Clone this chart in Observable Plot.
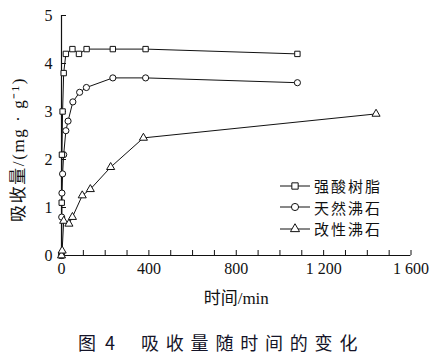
<!DOCTYPE html>
<html><head><meta charset="utf-8">
<script src="https://cdn.jsdelivr.net/npm/d3@7"></script>
<script src="https://cdn.jsdelivr.net/npm/@observablehq/plot@0.6"></script>
<style>
body{margin:0;background:#fff;}
#wrap{position:relative;width:435px;height:359px;overflow:hidden;}
#legend{position:absolute;left:279px;top:175px;font-family:"Noto Sans CJK SC",sans-serif;font-size:15px;letter-spacing:2px;color:#111;}
#legend .row{display:flex;align-items:center;height:21.6px;line-height:1;}
#legend span{line-height:1;display:block;}
#legend svg{margin-right:3px;display:block;}
#caption{position:absolute;left:78px;top:333px;font-family:"Noto Sans CJK SC",sans-serif;font-size:18px;color:#141428;white-space:pre;line-height:1;}
#caption .fig{letter-spacing:0;}
#caption .num{margin-left:9px;margin-right:26px;}
#caption .main{letter-spacing:6.8px;}
</style></head><body><div id="wrap"><div id="legend"></div><div id="caption"></div></div>
<script>
// ---- data ----
const seriesNames = ["强酸树脂", "天然沸石", "改性沸石"];
const seriesSymbols = ["square", "circle", "triangle"];
const resinTime  = [0, 1, 2, 5, 10, 20, 50, 80, 115, 235, 385, 1080];
const resinValue = [0, 1.1, 2.1, 3.0, 3.8, 4.2, 4.3, 4.2, 4.3, 4.3, 4.3, 4.2];
const natTime  = [0, 1, 2, 5, 10, 20, 30, 52, 83, 114, 235, 385, 1080];
const natValue = [0, 0.8, 1.3, 1.7, 2.1, 2.6, 2.8, 3.2, 3.4, 3.5, 3.7, 3.7, 3.6];
const modTime  = [0, 3, 10, 34, 50, 95, 132, 225, 375, 1440];
const modValue = [0, 0.1, 0.72, 0.66, 0.8, 1.25, 1.38, 1.84, 2.45, 2.95];
const xMinorTicks = d3.range(0, 1601, 100);
const xLabelTicks = [0, 400, 800, 1200, 1600];
const yTicks = [0, 1, 2, 3, 4, 5];
const xTitle = "时间/min";
const yTitle = "吸收量/(mg · g⁻¹)";
const captionFig = "图";
const captionNum = "4";
const captionMain = "吸收量随时间的变化";

const toRows = (name, t, v) => t.map((d, i) => ({series: name, t: d, v: v[i]}));
const rows = [
  ...toRows(seriesNames[0], resinTime, resinValue),
  ...toRows(seriesNames[1], natTime, natValue),
  ...toRows(seriesNames[2], modTime, modValue)
];

const serif = "'Liberation Serif','Noto Sans CJK SC',serif";
const fmt = d => d >= 1000 ? String(d).replace(/(\d)(\d{3})$/, "$1 $2") : String(d);

const plot = Plot.plot({
  width: 435, height: 315,
  marginLeft: 61, marginRight: 24.5, marginTop: 15, marginBottom: 60,
  style: {fontFamily: serif, fontSize: "16px", color: "#111", background: "white"},
  x: {domain: [0, 1600]},
  y: {domain: [0, 5]},
  symbol: {domain: seriesNames, range: seriesSymbols},
  marks: [
    Plot.axisX({ticks: xMinorTicks, tickSize: 5, dy: -5, tickFormat: () => "", label: null, strokeWidth: 1}),
    Plot.axisX({ticks: xLabelTicks, tickSize: 0, tickPadding: 7, tickFormat: fmt, label: null, fontSize: 16}),
    Plot.axisY({ticks: yTicks, tickSize: 5, dx: 5, tickFormat: () => "", label: null}),
    Plot.axisY({ticks: yTicks, tickSize: 0, tickPadding: 9, tickFormat: d => String(d), label: null, fontSize: 16}),
    Plot.ruleY([0], {stroke: "#111", strokeWidth: 1.2}),
    Plot.ruleX([0], {y1: 0, y2: 5, stroke: "#111", strokeWidth: 1.2}),
    Plot.line(rows, {x: "t", y: "v", z: "series", stroke: "#111", strokeWidth: 1}),
    Plot.dot(rows, {x: "t", y: "v", symbol: "series", r: d => d.series === seriesNames[2] ? 3.6 : (d.series === seriesNames[0] ? 3.7 : 3.8), fill: "white", stroke: "#111", strokeWidth: 1}),
    Plot.text([xTitle], {frameAnchor: "bottom", dy: 48, fontFamily: serif, fontSize: 17, fill: "#111"}),
    Plot.text([yTitle], {frameAnchor: "left", dx: -43, dy: 14, rotate: -90, fontFamily: serif, fontSize: 17, fill: "#111", textAnchor: "middle"})
  ]
});
d3.select(plot).selectAll("text").filter(function() { return this.textContent === yTitle; }).style("letter-spacing", "1.6px");
document.getElementById("wrap").prepend(plot);

// legend
const leg = d3.select("#legend");
seriesNames.forEach((name, i) => {
  const row = leg.append("div").attr("class", "row");
  const s = row.append("svg").attr("width", 32).attr("height", 14);
  s.append("line").attr("x1", 1).attr("x2", 31).attr("y1", 7).attr("y2", 7).attr("stroke", "#111");
  const sym = d3.symbol().type([d3.symbolSquare, d3.symbolCircle, d3.symbolTriangle][i]).size(i === 2 ? 36 : 40);
  s.append("path").attr("d", sym()).attr("transform", "translate(16,7)").attr("fill", "white").attr("stroke", "#111");
  row.append("span").text(name);
});
const cap = d3.select("#caption");
cap.append("span").attr("class", "fig").text(captionFig);
cap.append("span").attr("class", "num").text(captionNum);
cap.append("span").attr("class", "main").text(captionMain);
</script>
</body></html>
